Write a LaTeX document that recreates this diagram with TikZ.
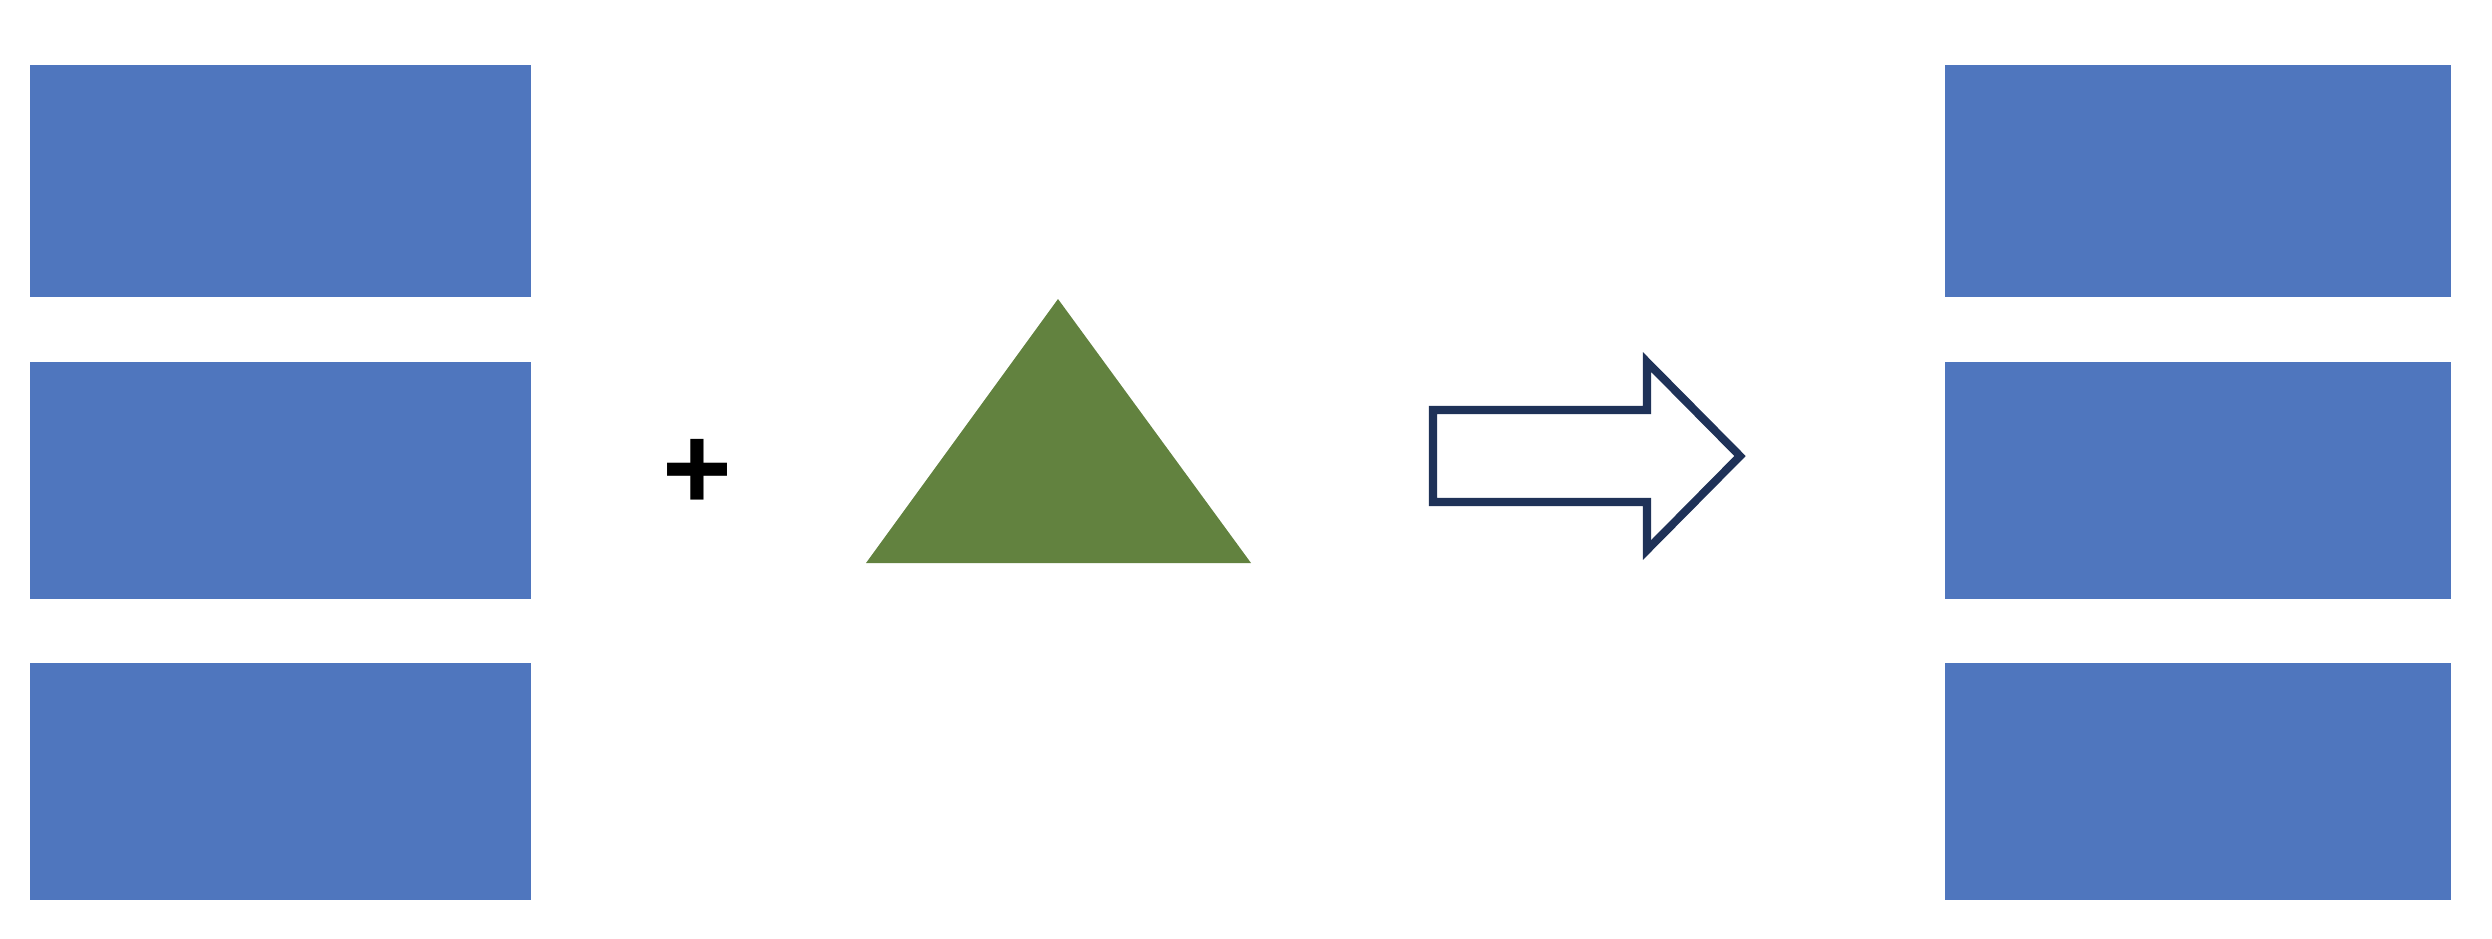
\documentclass[tikz,border=0pt]{standalone}
\usepackage{fontspec}
\newfontfamily\plusfont{Liberation Sans}
\definecolor{blockblue}{HTML}{4F76BE}
\definecolor{leafgreen}{HTML}{62823F}
\definecolor{arrownavy}{HTML}{1F3258}
\begin{document}
\begin{tikzpicture}[x=0.01cm,y=-0.01cm]
    \useasboundingbox (0,0) rectangle (2492,938);

    % Left column of blocks
    \foreach \ya/\yb in {65/297,362/599,663/900} {
        \fill[blockblue] (30,\ya) rectangle (531,\yb);
    }

    % Right column of blocks
    \foreach \ya/\yb in {65/297,362/599,663/900} {
        \fill[blockblue] (1945,\ya) rectangle (2451,\yb);
    }

    % Plus sign
    \node[font=\plusfont\bfseries\fontsize{34}{34}\selectfont, inner sep=0pt] (plus) at (697,474) {+};

    % Triangle
    \fill[leafgreen] (1058,299) -- (1251,563) -- (866,563) -- cycle;

    % Block arrow
    \draw[arrownavy, line width=2.3pt, fill=white]
        (1433,410) -- (1647,410) -- (1647,362) -- (1740,456)
        -- (1647,550) -- (1647,502) -- (1433,502) -- cycle;
\end{tikzpicture}
\end{document}
